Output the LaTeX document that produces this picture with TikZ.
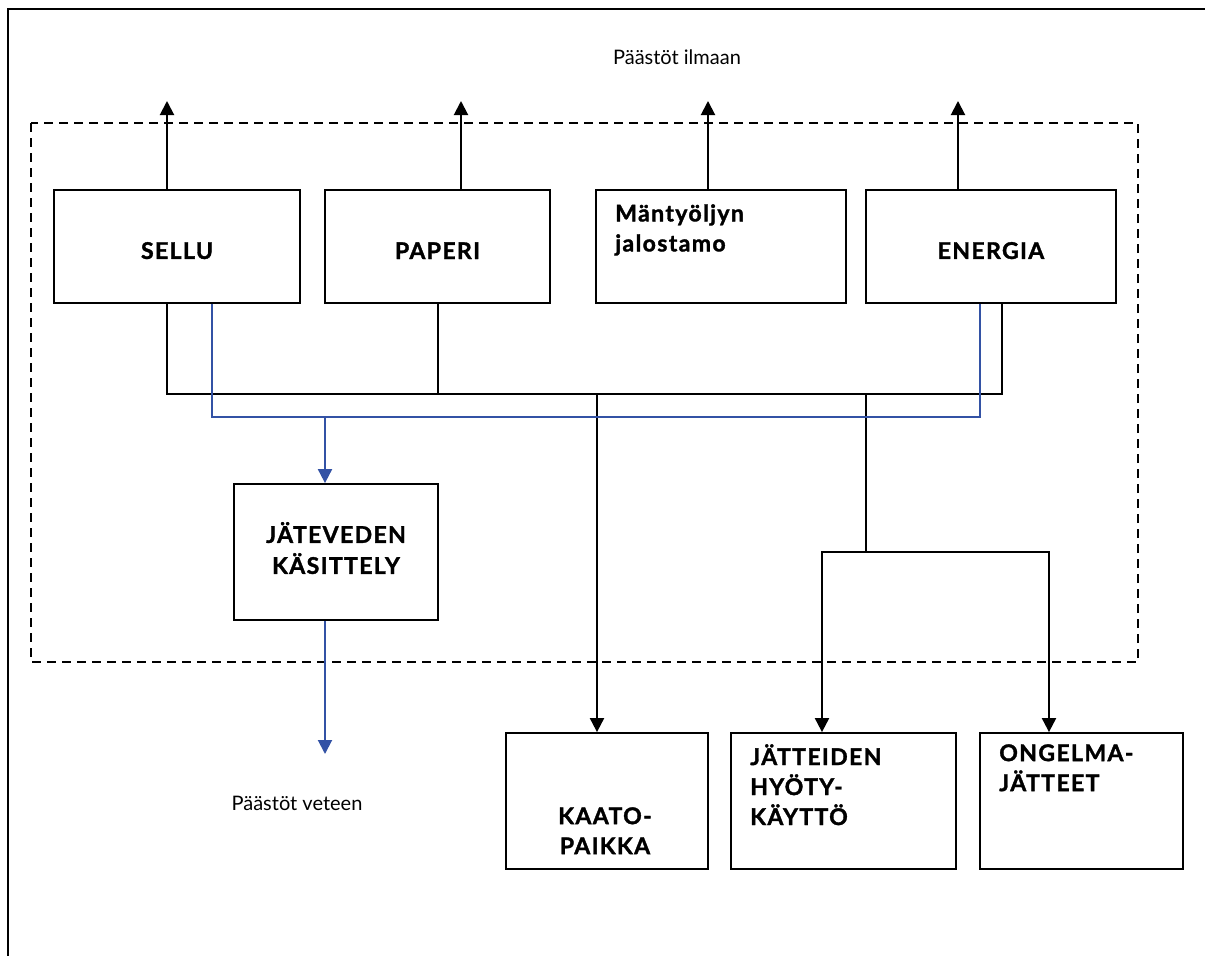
\documentclass[tikz,border=0pt]{standalone}
\usepackage{fontspec}
\setmainfont{Lato}
\newfontfamily\laatikkofont[LetterSpace=6, BoldFeatures={FakeBold=1.5}]{Lato}
\usetikzlibrary{arrows.meta}

\definecolor{vesi}{RGB}{51,82,165}

\tikzset{
  laatikko/.style={draw, line width=1.8pt, inner sep=0pt, font=\laatikkofont\fontsize{23}{31}\selectfont\bfseries, align=center},
  kulma/.style={anchor=north west, inner sep=0pt, font=\laatikkofont\fontsize{23}{30}\selectfont\bfseries, align=left},
  virta/.style={line width=2pt},
  nuoli/.style={virta, -{Triangle[length=14pt, width=14pt]}},
  teksti/.style={font=\fontsize{20}{24}\selectfont}
}

\begin{document}
\begin{tikzpicture}[x=1pt, y=-1pt]
\useasboundingbox (0,0) rectangle (1205,956);

\draw[line width=1.5pt] (1205,9) -- (8,9) -- (8,956);
\draw[line width=1.8pt, dash pattern=on 9pt off 6pt] (31,123) rectangle (1138,662);

\draw (677,57) node[teksti] (ilma) {Päästöt ilmaan};
\coordinate (ylos) at (0,101);

\draw (177,246.5) node[laatikko, minimum width=246, minimum height=113, text height=25] (sellu) {SELLU};
\draw (437.5,246.5) node[laatikko, minimum width=225, minimum height=113, text height=25] (paperi) {PAPERI};
\draw (721,246.5) node[laatikko, minimum width=250, minimum height=113,
  label={[kulma, xshift=20, yshift=-15]north west:Mäntyöljyn\\jalostamo}] (mantyoljy) {};
\draw (991,246.5) node[laatikko, minimum width=250, minimum height=113, text height=25] (energia) {ENERGIA};

\draw (336,552) node[laatikko, minimum width=204, minimum height=136, text depth=8] (jatevesi) {JÄTEVEDEN\\KÄSITTELY};

\draw (607,801) node[laatikko, minimum width=202, minimum height=136,
  label={[kulma, anchor=north, align=center, xshift=-2, yshift=-75]north:KAATO-\\PAIKKA}] (kaato) {};
\draw (843.5,801) node[laatikko, minimum width=225, minimum height=136,
  label={[kulma, xshift=20, yshift=-12]north west:JÄTTEIDEN\\HYÖTY-\\KÄYTTÖ}] (hyoty) {};
\draw (1081.5,801) node[laatikko, minimum width=203, minimum height=136,
  label={[kulma, xshift=20, yshift=-12]north west:ONGELMA-\\JÄTTEET}] (ongelma) {};

\draw (297,803) node[teksti] (vesi) {Päästöt veteen};

%% ilmaan
\draw[nuoli] ([xshift=-10]sellu.north) -- ([xshift=-10]sellu.north |- ylos);
\draw[nuoli] ([xshift=23.5]paperi.north) -- ([xshift=23.5]paperi.north |- ylos);
\draw[nuoli] ([xshift=-13]mantyoljy.north) -- ([xshift=-13]mantyoljy.north |- ylos);
\draw[nuoli] ([xshift=-33]energia.north) -- ([xshift=-33]energia.north |- ylos);

%% kiinteat jatteet
\coordinate (kok) at (0,394);
\coordinate (jako) at (866,552);
\draw[virta] ([xshift=-10]sellu.south) -- ([xshift=-10]sellu.south |- kok)
  -- ([xshift=11]energia.south |- kok) -- ([xshift=11]energia.south);
\draw[virta] (paperi.south) -- (paperi.south |- kok);
\draw[nuoli] ([xshift=-10]kaato.north |- kok) -- ([xshift=-10]kaato.north);
\draw[virta] (jako |- kok) -- (jako);
\draw[nuoli] (jako) -| ([xshift=-21.5]hyoty.north);
\draw[nuoli] (jako) -| ([xshift=-32.5]ongelma.north);

%% jatevedet
\coordinate (vkok) at (0,417);
\coordinate (veteen) at (0,754);
\draw[virta, vesi] ([xshift=35]sellu.south) -- ([xshift=35]sellu.south |- vkok)
  -- ([xshift=-11]energia.south |- vkok) -- ([xshift=-11]energia.south);
\draw[nuoli, vesi] ([xshift=-11]jatevesi.north |- vkok) -- ([xshift=-11]jatevesi.north);
\draw[nuoli, vesi] ([xshift=-11]jatevesi.south) -- ([xshift=-11]jatevesi.south |- veteen);

\end{tikzpicture}
\end{document}
